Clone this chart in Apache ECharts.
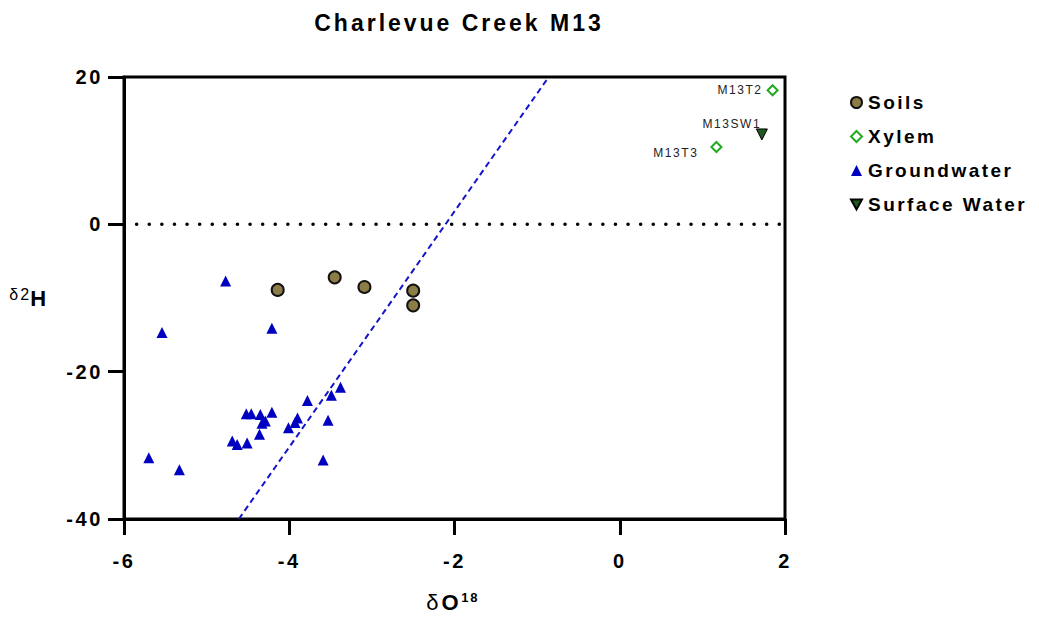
<!DOCTYPE html>
<html>
<head>
<meta charset="utf-8">
<script src="https://cdn.jsdelivr.net/npm/echarts@6/dist/echarts.min.js"></script>
<style>
html,body{margin:0;padding:0;background:#fff;}
#chart{width:1039px;height:619px;}
#chart text{letter-spacing:0.13em;}
</style>
</head>
<body>
<div id="chart"></div>
<script>
const titleText = 'Charlevue Creek M13';
const xTicks = [-6, -4, -2, 0, 2];
const yTicks = [-40, -20, 0, 20];

const soilsX = [-4.14, -3.45, -3.09, -2.50, -2.50];
const soilsY = [-8.9, -7.2, -8.5, -9.0, -11.0];

const xylemX = [1.85, 1.17];
const xylemY = [18.2, 10.5];
const xylemNames = ['M13T2', 'M13T3'];

const gwX = [-4.77, -5.54, -4.21, -3.38, -3.49, -3.78, -3.53, -3.90, -3.93, -4.01, -4.21, -4.35, -4.46, -4.52, -4.29, -4.33, -4.36, -4.69, -4.63, -4.51, -5.70, -5.33, -3.59];
const gwY = [-7.7, -14.7, -14.1, -22.1, -23.2, -23.9, -26.6, -26.3, -26.9, -27.6, -25.5, -25.8, -25.7, -25.7, -26.7, -27.0, -28.5, -29.4, -29.9, -29.7, -31.7, -33.3, -32.0];

const swX = [1.72];
const swY = [12.2];
const swNames = ['M13SW1'];

const fitX = [-4.61, -0.86];
const fitY = [-40, 20];

const zeroX = [-6, 2];
const zeroY = [0, 0];

const zip = (xs, ys) => xs.map((x, i) => [x, ys[i]]);
const FONT = '"Liberation Sans", Arial, sans-serif';

const labelCfg = {
  'M13T2': {position: 'left', distance: 4},
  'M13T3': {position: 'left', distance: 12, offset: [0, 6]},
  'M13SW1': {position: 'top', distance: 0, offset: [-30, 2]}
};

const chart = echarts.init(document.getElementById('chart'), null, {renderer: 'svg'});
chart.setOption({
  animation: false,
  backgroundColor: '#fff',
  title: {
    text: titleText,
    left: 454, top: 6, textAlign: 'center',
    textStyle: {fontFamily: FONT, fontWeight: 'bold', fontSize: 23, color: '#000'}
  },
  grid: {left: 124, right: 254, top: 77, bottom: 100, show: true, borderColor: '#000', borderWidth: 3, backgroundColor: 'transparent'},
  legend: {
    orient: 'vertical', left: 845, top: 88,
    itemWidth: 11, itemHeight: 11, itemGap: 15,
    data: [
      {name: 'Soils'},
      {name: 'Xylem'},
      {name: 'Groundwater'},
      {name: 'Surface Water', icon: 'path://M0,0 L10,0 L5,9 Z'}
    ],
    textStyle: {fontFamily: FONT, fontWeight: 'bold', fontSize: 19, color: '#000', padding: [0, 0, 0, 1]}
  },
  xAxis: {
    type: 'value', min: xTicks[0], max: xTicks[xTicks.length - 1], interval: 2,
    name: '{d|δ}{b|O}{s|18}', nameLocation: 'middle', nameGap: 72,
    nameTextStyle: {
      rich: {
        d: {fontFamily: FONT, fontSize: 22, color: '#000', padding: [0, 3, 0, 0]},
        b: {fontFamily: FONT, fontSize: 22, fontWeight: 'bold', color: '#000', padding: [0, 3, 0, 0]},
        s: {fontFamily: FONT, fontSize: 13, fontWeight: 'bold', color: '#000', verticalAlign: 'top', padding: [0, 4, 10, 0]}
      }
    },
    axisLine: {onZero: false, lineStyle: {color: '#000', width: 3}},
    axisTick: {length: 16, lineStyle: {width: 3, color: '#000'}},
    axisLabel: {margin: 32, fontFamily: FONT, fontWeight: 'bold', fontSize: 20, color: '#000'},
    splitLine: {show: false}
  },
  yAxis: {
    type: 'value', min: yTicks[0], max: yTicks[yTicks.length - 1], interval: 20,
    name: '{d|δ2}{b|H}', nameLocation: 'middle', nameGap: 72, nameRotate: 0,
    nameTextStyle: {
      align: 'right',
      rich: {
        d: {fontFamily: FONT, fontSize: 16, color: '#000', padding: [0, 2, 8, 0]},
        b: {fontFamily: FONT, fontSize: 22, fontWeight: 'bold', color: '#000', padding: [0, 3, 0, 0]}
      }
    },
    axisLine: {onZero: false, lineStyle: {color: '#000', width: 3}},
    axisTick: {length: 16, lineStyle: {width: 3, color: '#000'}},
    axisLabel: {margin: 21, fontFamily: FONT, fontWeight: 'bold', fontSize: 20, color: '#000'},
    splitLine: {show: false}
  },
  series: [
    {
      name: 'zero', type: 'line', data: zip(zeroX, zeroY), symbol: 'none', silent: true,
      lineStyle: {color: '#000', width: 3.5, type: [0.1, 12.5], cap: 'round'}, z: 1
    },
    {
      name: 'fit', type: 'line', data: zip(fitX, fitY), symbol: 'none', silent: true,
      lineStyle: {color: '#1414c8', width: 2, type: [6, 4]}, z: 1
    },
    {
      name: 'Soils', type: 'scatter', data: zip(soilsX, soilsY), symbol: 'circle', symbolSize: 12,
      itemStyle: {color: '#8c7c46', borderColor: '#111', borderWidth: 2, opacity: 1}, z: 3
    },
    {
      name: 'Xylem', type: 'scatter', symbol: 'diamond', symbolSize: 10,
      data: xylemX.map((x, i) => ({value: [x, xylemY[i]], name: xylemNames[i], label: labelCfg[xylemNames[i]]})),
      itemStyle: {color: '#fff', borderColor: '#22aa22', borderWidth: 2, opacity: 1},
      label: {show: true, formatter: '{b}', fontFamily: FONT, fontSize: 12, color: '#222'}, z: 3
    },
    {
      name: 'Groundwater', type: 'scatter', data: zip(gwX, gwY), symbol: 'triangle', symbolSize: 11,
      itemStyle: {color: '#0000c0', opacity: 1}, z: 3
    },
    {
      name: 'Surface Water', type: 'scatter', symbol: 'triangle', symbolRotate: 180, symbolSize: 11,
      data: swX.map((x, i) => ({value: [x, swY[i]], name: swNames[i], label: labelCfg[swNames[i]]})),
      itemStyle: {color: '#1e5a1e', borderColor: '#000', borderWidth: 1, opacity: 1},
      label: {show: true, formatter: '{b}', fontFamily: FONT, fontSize: 12, color: '#222'}, z: 3
    }
  ]
});
</script>
</body>
</html>
